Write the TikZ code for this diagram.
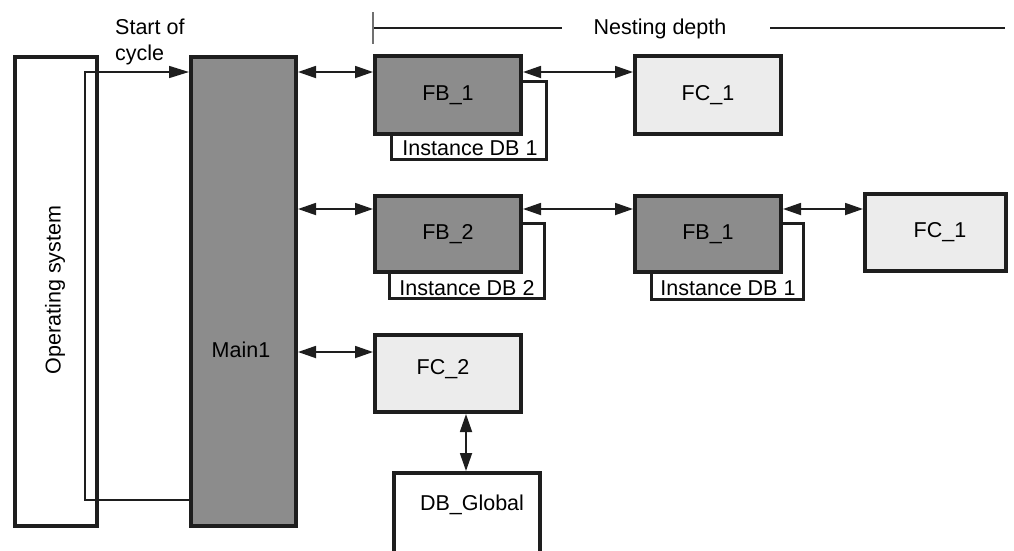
\documentclass[tikz,border=0pt]{standalone}
\usepackage{fontspec}
\setmainfont{Liberation Sans}
\usetikzlibrary{arrows.meta}
\definecolor{dk}{HTML}{8C8C8C}
\definecolor{lt}{HTML}{ECECEC}
\definecolor{ln}{HTML}{1E1E1E}
\definecolor{tk}{HTML}{707070}
\begin{document}
\begin{tikzpicture}[x=1pt,y=-1pt,
  font=\fontsize{21.5}{26}\selectfont,
  blk/.style={draw=ln, line width=4pt, inner sep=0pt},
  darkbox/.style={blk, fill=dk},
  lightbox/.style={blk, fill=lt},
  wbox/.style={blk, fill=white},
  inst/.style={draw=ln, line width=3pt, fill=white, inner sep=0pt},
  thinln/.style={draw=ln, line width=1.5pt},
  dbl/.style={draw=ln, line width=1.8pt, {Triangle[length=18pt,width=12pt]}-{Triangle[length=18pt,width=12pt]}},
  txt/.style={inner sep=0pt, text=black}
]
\useasboundingbox (0,0) rectangle (1014,550);
\clip (0,0) rectangle (1014,550);

% Operating system and Main1
\node[wbox, minimum width=82pt, minimum height=469pt] (os) at (56,291.5) {};
\node[txt, rotate=90] (ostxt) at (55,290) {Operating system};
\node[darkbox, minimum width=105pt, minimum height=469pt] (main) at (243.5,291.5) {};
\node[txt] (maintxt) at (241,350) {Main1};

% start of cycle loop
\coordinate (cb) at (85,500);
\coordinate (ct) at (85,72);
\draw[thinln, -{Triangle[length=20pt,width=12pt]}] (main.west |- cb) -- (cb) -- (ct) -- (main.west |- ct);
\node[txt, anchor=west, align=left] (soc) at (115,42) {Start of\\cycle};

% Nesting depth
\coordinate (nd0) at (373,28);
\coordinate (nd1) at (562,28);
\coordinate (nd2) at (770,28);
\coordinate (nd3) at (1005,28);
\coordinate (tk0) at (373,12);
\coordinate (tk1) at (373,44);
\draw[line width=1.3pt, draw=ln] (nd0) -- (nd1) (nd2) -- (nd3);
\draw[line width=1.3pt, draw=tk] (tk0) -- (tk1);
\node[txt] (ndtxt) at (660,29) {Nesting depth};

% Row 1
\node[inst, minimum width=155pt, minimum height=78pt] (i1) at (469,120.5) {};
\node[txt] (i1t) at (470,148) {Instance DB 1};
\node[darkbox, minimum width=146pt, minimum height=78pt] (fb1) at (448,95) {FB\_1};
\node[lightbox, minimum width=146pt, minimum height=78pt] (fc1) at (708,95) {FC\_1};

% Row 2
\node[inst, minimum width=155pt, minimum height=75pt] (i2) at (467,261) {};
\node[txt] (i2t) at (467,288) {Instance DB 2};
\node[darkbox, minimum width=146pt, minimum height=76pt] (fb2) at (448,234) {FB\_2};
\node[inst, minimum width=152pt, minimum height=76pt] (i3) at (727.5,261.5) {};
\node[txt] (i3t) at (728,288) {Instance DB 1};
\node[darkbox, minimum width=146pt, minimum height=76pt] (fb1b) at (708,234) {FB\_1};
\node[lightbox, minimum width=141pt, minimum height=77pt] (fc1b) at (935.5,232.5) {};
\node[txt] (fc1bt) at (940,232) {FC\_1};

% Row 3
\node[lightbox, minimum width=146pt, minimum height=77pt] (fc2) at (448,373.5) {};
\node[txt] (fc2t) at (443,369) {FC\_2};
\node[wbox, minimum width=146pt, minimum height=97pt] (dbg) at (467,521.5) {};
\node[txt] (dbgt) at (472,505) {DB\_Global};

% connectors
\coordinate (r1) at (0,72);
\coordinate (r2) at (0,209);
\coordinate (r3) at (0,352);
\draw[dbl] (main.east |- r1) -- (fb1.west |- r1);
\draw[dbl] (fb1.east |- r1) -- (fc1.west |- r1);
\draw[dbl] (main.east |- r2) -- (fb2.west |- r2);
\draw[dbl] (fb2.east |- r2) -- (fb1b.west |- r2);
\draw[dbl] (fb1b.east |- r2) -- (fc1b.west |- r2);
\draw[dbl] (main.east |- r3) -- (fc2.west |- r3);
\coordinate (vx) at (466,0);
\draw[dbl] (fc2.south -| vx) -- (dbg.north -| vx);
\end{tikzpicture}
\end{document}
